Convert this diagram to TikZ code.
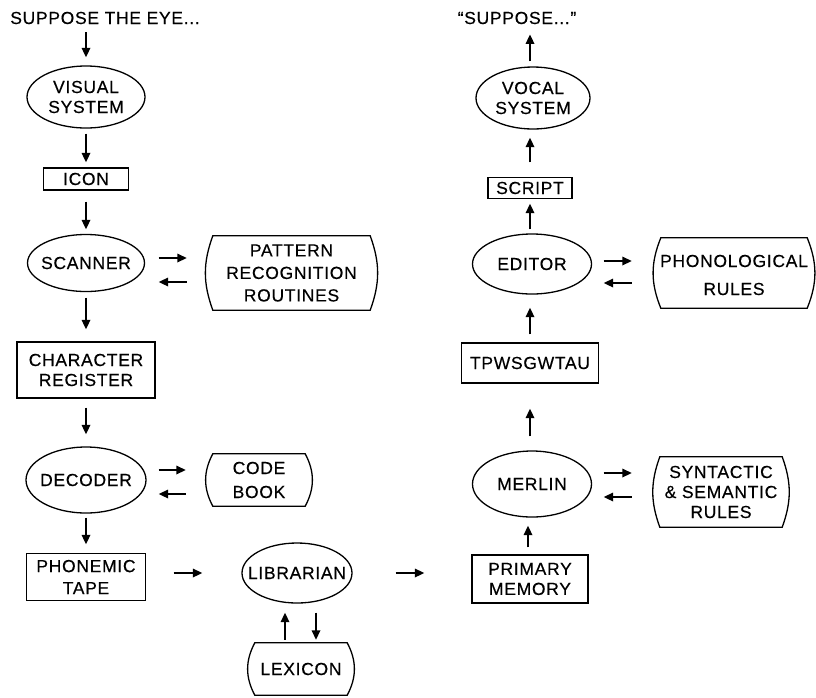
\documentclass[tikz,border=0pt]{standalone}
\usepackage{fontspec}
\setmainfont{Liberation Sans}[LetterSpace=4,FakeBold=0.4]
\usetikzlibrary{shapes.geometric,arrows.meta,calc}
\newcommand\rulebox[3]{% name, right angle, left angle
  \draw[line width=1.3pt] (#1.north west) -- (#1.north east)
    to[out=-#2,in=#2] (#1.south east) -- (#1.south west)
    to[out=#3,in=-#3] (#1.north west) -- cycle;}
\begin{document}
\begin{tikzpicture}[x=1pt,y=-1pt,
  every node/.style={font=\fontsize{17.5}{20}\selectfont, inner sep=0pt, align=center},
  ell/.style={ellipse, draw, line width=1.3pt},
  box/.style={rectangle, draw, line width=1.3pt},
  rules/.style={rectangle, draw=none},
  arr/.style={line width=1.7pt, -{Triangle[length=9.5pt,width=8.5pt]}},
]
\useasboundingbox (0,0) rectangle (816,697);

% left column shapes
\node (eye) at (105,18) {SUPPOSE THE EYE...};
\node[ell, minimum width=118pt, minimum height=62pt] (vis) at (86,97) {};
\node[box, minimum width=85pt, minimum height=22pt] (icon) at (86,179) {};
\node[ell, minimum width=117pt, minimum height=57pt] (scan) at (86,263) {};
\node[rules, minimum width=157pt, minimum height=74pt] (pat) at (291.5,273) {};
\node[box, minimum width=138pt, minimum height=56pt] (char) at (86,370) {};
\node[ell, minimum width=120pt, minimum height=66pt] (dec) at (86,480) {};
\node[rules, minimum width=92pt, minimum height=52pt] (code) at (259,480) {};
\node[box, minimum width=119pt, minimum height=47pt] (phon) at (86,577) {};
\node[ell, minimum width=110pt, minimum height=60pt] (lib) at (297,573) {};
\node[rules, minimum width=92pt, minimum height=52pt] (lex) at (301,669) {};

% right column shapes
\node (say) at (517,18) {“SUPPOSE...”};
\node[ell, minimum width=114pt, minimum height=62pt] (voc) at (533,98) {};
\node[box, minimum width=84pt, minimum height=21pt] (scr) at (530,188) {};
\node[ell, minimum width=119pt, minimum height=60pt] (edit) at (532,264) {};
\node[rules, minimum width=146pt, minimum height=70pt] (phono) at (734,273) {};
\node[box, minimum width=137pt, minimum height=40pt] (tpw) at (530,363) {};
\node[ell, minimum width=119pt, minimum height=66pt] (mer) at (532,484) {};
\node[rules, minimum width=122pt, minimum height=70pt] (syn) at (721,492) {};
\node[box, minimum width=116pt, minimum height=48pt] (prim) at (530,579) {};

\rulebox{pat}{70}{110}
\rulebox{code}{62}{118}
\rulebox{lex}{62}{118}
\rulebox{phono}{68}{112}
\rulebox{syn}{70}{110}

% texts
\node (vist) at (vis) {VISUAL\\SYSTEM};
\node (icont) at (icon) {ICON};
\node (scant) at (scan) {SCANNER};
\node (patt) at (pat) {PATTERN\\[2.5pt]RECOGNITION\\[2.5pt]ROUTINES};
\node (chart) at (char) {CHARACTER\\REGISTER};
\node (dect) at (dec) {DECODER};
\node (codet) at (code) {CODE\\[4pt]BOOK};
\node (phont) at (phon) {PHONEMIC\\[2pt]TAPE};
\node (libt) at (lib) {LIBRARIAN};
\node (lext) at (lex) {LEXICON};
\node (voct) at (voc) {VOCAL\\SYSTEM};
\node (scrt) at (scr) {SCRIPT};
\node (editt) at (edit) {EDITOR};
\node (phonot) at ($(phono)+(0,2)$) {PHONOLOGICAL\\[8pt]RULES};
\node (tpwt) at (tpw) {TPWSGWTAU};
\node (mert) at (mer) {MERLIN};
\node (synt) at (syn) {SYNTACTIC\\\&~SEMANTIC\\RULES};
\node (primt) at (prim) {PRIMARY\\MEMORY};

% left column arrows
\draw[arr, shorten <=8pt, shorten >=8pt] (vis.north |- eye.south) -- (vis.north);
\draw[arr, shorten <=5pt, shorten >=5pt] (vis.south) -- (icon.north);
\draw[arr, shorten <=11pt, shorten >=4.5pt] (icon.south) -- (scan.north);
\draw[arr, shorten <=5.5pt, shorten >=12pt] (scan.south) -- (char.north);
\draw[arr, shorten <=9pt, shorten >=12pt] (char.south) -- (dec.north);
\draw[arr, shorten <=4pt, shorten >=8.5pt] (dec.south) -- (phon.north);

\draw[arr] ($(scan.east)+(13.5,-5)$) -- ($(pat.west)+(-26,-15)$);
\draw[arr] ($(pat.west)+(-26,9)$) -- ($(scan.east)+(13.5,19)$);
\draw[arr] ($(dec.east)+(12,-10)$) -- ($(code.west)+(-27,-10)$);
\draw[arr] ($(code.west)+(-27,14)$) -- ($(dec.east)+(12,14)$);

\draw[arr, shorten <=27.5pt, shorten >=39pt] (phon.east |- lib.west) -- (lib.west);
\draw[arr, shorten <=43pt, shorten >=47pt] (lib.east) -- (lib.east -| prim.west);
\draw[arr] ($(lex.north)+(-16,-3)$) -- ($(lib.south)+(-12,9)$);
\draw[arr] ($(lib.south)+(19,9)$) -- ($(lex.north)+(15,-3)$);

% right column arrows
\draw[arr, shorten <=5pt, shorten >=10pt] (scr.north |- voc.north) -- (scr.north |- say.south);
\draw[arr, shorten <=14.5pt, shorten >=8pt] (scr.north) -- (scr.north |- voc.south);
\draw[arr, shorten <=4pt, shorten >=4.5pt] (scr.south |- edit.north) -- (scr.south);
\draw[arr, shorten <=8pt, shorten >=13pt] (tpw.north) -- (tpw.north |- edit.south);
\draw[arr, shorten <=14pt, shorten >=25pt] (tpw.south |- mer.north) -- (tpw.south);
\draw[arr, shorten <=7pt, shorten >=8pt] ($(prim.north)+(-2,0)$) -- ($(prim.north |- mer.south)+(-2,0)$);

\draw[arr] ($(edit.east)+(11.5,-3)$) -- ($(phono.west)+(-29,-12)$);
\draw[arr] ($(phono.west)+(-29,10)$) -- ($(edit.east)+(11.5,19)$);
\draw[arr] ($(mer.east)+(11.5,-11)$) -- ($(syn.west)+(-28,-19)$);
\draw[arr] ($(syn.west)+(-28,5)$) -- ($(mer.east)+(11.5,13)$);
\end{tikzpicture}
\end{document}
